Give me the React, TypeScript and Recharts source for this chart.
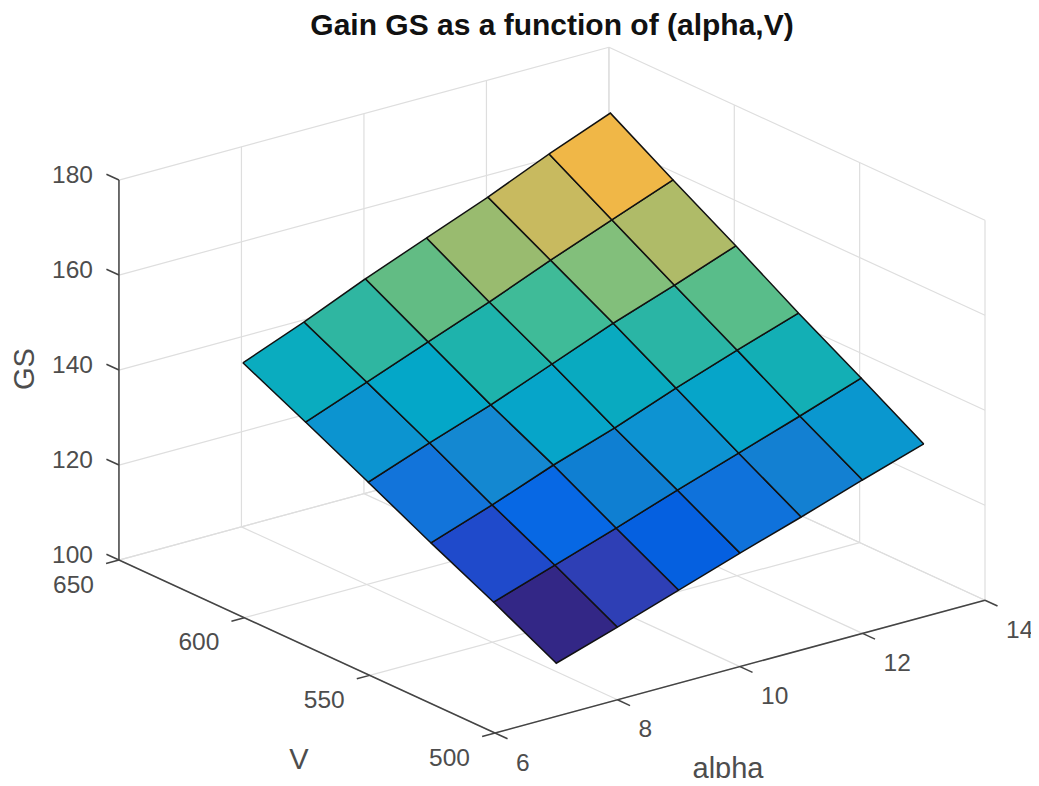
import React from "react";
import { ComposedChart, XAxis, YAxis, Area, Scatter, ReferenceLine } from "recharts";

const W = 1039;
const H = 786;

const alphaGrid = [7, 8, 9, 10, 11, 12, 13];
const voltGrid = [500, 525, 550, 575, 600, 625];
const gsValues = [
  [111.2, 115.3, 119.6, 123.9, 128.0, 132.3, 136.4],
  [118.0, 122.3, 126.6, 131.1, 135.4, 139.7, 144.2],
  [124.4, 128.9, 133.8, 138.1, 143.0, 147.5, 151.8],
  [131.1, 135.9, 140.4, 145.5, 150.6, 155.1, 159.9],
  [137.7, 142.6, 147.6, 152.5, 157.8, 162.8, 167.7],
  [144.1, 149.2, 154.8, 159.9, 165.0, 170.6, 175.7],
];
const cellColors = [
  ["#332786", "#2e3fb5", "#0560e0", "#0f72db", "#1380d2", "#0a97cf"],
  ["#1f4acb", "#0768e4", "#0f7fd2", "#0d93d2", "#06a5c9", "#13afb5"],
  ["#1274da", "#1488d1", "#06a5c9", "#09aac0", "#2ab5a5", "#59bd8a"],
  ["#0c94d0", "#04a7c8", "#1eb3ac", "#3fbb98", "#82bf7b", "#afbb68"],
  ["#0aacbf", "#2fb6a1", "#62bc84", "#99bb6f", "#c8ba5f", "#f0b747"],
];

const alphaTicks = [6, 8, 10, 12, 14];
const voltTicks = [500, 550, 600, 650];
const gsTicks = [100, 120, 140, 160, 180];

const ALPHA_MIN = 6, ALPHA_MAX = 14, V_MIN = 500, V_MAX = 650, GS_MIN = 100, GS_MAX = 180;

// Orthographic projection of the 3-D box on to the chart's plane
const project = (a: number, v: number, g: number) => ({
  x: 495 + 61.25 * (a - ALPHA_MIN) - 2.507 * (v - V_MIN),
  y: 733 - 16.6 * (a - ALPHA_MIN) - 1.153 * (v - V_MIN) - 4.75 * (g - GS_MIN),
});

type P = { x: number; y: number };
const chainY = (chain: P[], x: number) => {
  for (let i = 0; i < chain.length - 1; i++) {
    const p = chain[i], q = chain[i + 1];
    if (x >= p.x && x <= q.x) {
      return q.x === p.x ? p.y : p.y + ((x - p.x) / (q.x - p.x)) * (q.y - p.y);
    }
  }
  return chain[chain.length - 1].y;
};

const cells: { key: string; color: string; data: { x: number; range: [number, number] }[] }[] = [];
voltGrid.slice(0, -1).forEach((v, j) => {
  alphaGrid.slice(0, -1).forEach((a, i) => {
    const p00 = project(a, v, gsValues[j][i]);
    const p10 = project(alphaGrid[i + 1], v, gsValues[j][i + 1]);
    const p01 = project(a, voltGrid[j + 1], gsValues[j + 1][i]);
    const p11 = project(alphaGrid[i + 1], voltGrid[j + 1], gsValues[j + 1][i + 1]);
    const upper = [p01, p11, p10];
    const lower = [p01, p00, p10];
    const xs = [p01.x, p00.x, p11.x, p10.x].sort((m, n) => m - n);
    cells.push({
      key: `${j}-${i}`,
      color: cellColors[j][i],
      data: xs.map((x) => ({ x, range: [chainY(lower, x), chainY(upper, x)] as [number, number] })),
    });
  });
});

const gridLines: [P, P][] = [];
const axisLines: [P, P][] = [];
alphaTicks.forEach((a) => {
  gridLines.push([project(a, V_MIN, GS_MIN), project(a, V_MAX, GS_MIN)]);
  gridLines.push([project(a, V_MAX, GS_MIN), project(a, V_MAX, GS_MAX)]);
  axisLines.push([project(a, V_MIN, GS_MIN), project(a, V_MIN - 5, GS_MIN)]);
});
voltTicks.forEach((v) => {
  gridLines.push([project(ALPHA_MIN, v, GS_MIN), project(ALPHA_MAX, v, GS_MIN)]);
  gridLines.push([project(ALPHA_MAX, v, GS_MIN), project(ALPHA_MAX, v, GS_MAX)]);
  axisLines.push([project(ALPHA_MIN, v, GS_MIN), project(ALPHA_MIN - 0.21, v, GS_MIN)]);
});
gsTicks.forEach((g) => {
  gridLines.push([project(ALPHA_MIN, V_MAX, g), project(ALPHA_MAX, V_MAX, g)]);
  gridLines.push([project(ALPHA_MAX, V_MAX, g), project(ALPHA_MAX, V_MIN, g)]);
  axisLines.push([project(ALPHA_MIN, V_MAX, g), project(ALPHA_MIN, V_MAX + 5, g)]);
});
axisLines.push([project(ALPHA_MIN, V_MIN, GS_MIN), project(ALPHA_MAX, V_MIN, GS_MIN)]);
axisLines.push([project(ALPHA_MIN, V_MIN, GS_MIN), project(ALPHA_MIN, V_MAX, GS_MIN)]);
axisLines.push([project(ALPHA_MIN, V_MAX, GS_MIN), project(ALPHA_MIN, V_MAX, GS_MAX)]);

const gsLabels = gsTicks.map((g) => ({ ...project(ALPHA_MIN, V_MAX, g), label: String(g) }));
const voltLabels = voltTicks.map((v) => ({ ...project(ALPHA_MIN, v, GS_MIN), label: String(v) }));
const alphaLabels = alphaTicks.map((a) => ({ ...project(a, V_MIN, GS_MIN), label: String(a) }));

const FONT = "'Liberation Sans', Arial, sans-serif";
const tickShape = (dx: number, dy: number, anchor: string) => (props: any) => (
  <text
    x={props.cx + dx}
    y={props.cy + dy}
    textAnchor={anchor}
    dominantBaseline="central"
    fontFamily={FONT}
    fontSize={24.5}
    fill="#4d4d4d"
  >
    {props.payload.label}
  </text>
);

export default function App() {
  return (
    <div style={{ margin: "-8px", width: W, height: H, background: "#fff" }}>
      <ComposedChart width={W} height={H} margin={{ top: 0, right: 0, bottom: 0, left: 0 }}>
        <XAxis type="number" dataKey="x" domain={[0, W]} hide allowDataOverflow />
        <YAxis type="number" dataKey="y" domain={[0, H]} reversed hide allowDataOverflow />
        {gridLines.map((s, i) => (
          <ReferenceLine key={`g${i}`} segment={s} stroke="#dedede" strokeWidth={1.2} ifOverflow="visible" zIndex={10} />
        ))}
        {axisLines.map((s, i) => (
          <ReferenceLine key={`a${i}`} segment={s} stroke="#444444" strokeWidth={1.5} ifOverflow="visible" zIndex={20} />
        ))}
        {cells.map((c) => (
          <Area
            key={c.key}
            data={c.data}
            dataKey="range"
            type="linear"
            fill={c.color}
            fillOpacity={1}
            stroke="#111111"
            strokeWidth={1.5}
            dot={false}
            activeDot={false}
            isAnimationActive={false}
            zIndex={500}
          />
        ))}
        <Scatter data={gsLabels} shape={tickShape(-26, -6, "end")} isAnimationActive={false} />
        <Scatter data={voltLabels} shape={tickShape(-25, 24, "end")} isAnimationActive={false} />
        <Scatter data={alphaLabels} shape={tickShape(21, 29, "start")} isAnimationActive={false} />
        <text x={552} y={24} textAnchor="middle" dominantBaseline="central" fontFamily={FONT} fontWeight="bold" fontSize={30} fill="#111">
          Gain GS as a function of (alpha,V)
        </text>
        <text x={728} y={768} textAnchor="middle" dominantBaseline="central" fontFamily={FONT} fontSize={29} fill="#4d4d4d">
          alpha
        </text>
        <text x={299} y={759} textAnchor="middle" dominantBaseline="central" fontFamily={FONT} fontSize={29} fill="#4d4d4d">
          V
        </text>
        <text x={24} y={369} textAnchor="middle" dominantBaseline="central" fontFamily={FONT} fontSize={29} fill="#4d4d4d" transform="rotate(-90 24 369)">
          GS
        </text>
      </ComposedChart>
    </div>
  );
}
